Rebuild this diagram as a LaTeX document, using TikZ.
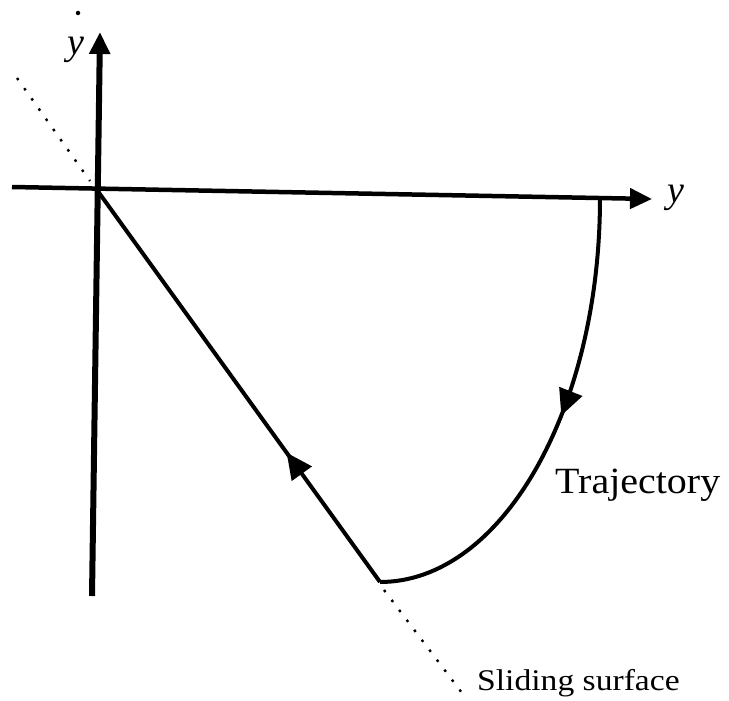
\documentclass[tikz,border=0pt]{standalone}
\usepackage{fontspec}
\setmainfont{Liberation Serif}
\usetikzlibrary{arrows.meta,decorations.markings}
\begin{document}
\begin{tikzpicture}[x=1pt,y=-1pt,
  vaxis/.style={line width=6pt,-{Triangle[length=22pt,width=20pt]}},
  haxis/.style={line width=4.5pt,-{Triangle[length=22pt,width=20pt]}},
  traj/.style={line width=4pt},
  surf/.style={line width=2.4pt,dash pattern=on 2.5pt off 10pt},
  lbl/.style={inner sep=0pt,font=\fontsize{38}{42}\selectfont\itshape},
  midarrow/.style={postaction={decorate},decoration={markings,mark=at position #1 with {\arrow{Triangle[length=26pt,width=24pt]}}}}]
\useasboundingbox (0,0) rectangle (729,701);
\coordinate (O) at (97,190);
\coordinate (ytop) at (100,32);
\coordinate (ybot) at (92,596);
\coordinate (xleft) at (12,187);
\coordinate (xright) at (652,199);
\coordinate (P) at (600,198);
\coordinate (B) at (380,582);
\coordinate (s1) at (17,78);
\coordinate (s2) at (90,181);
\coordinate (s3) at (384,590);
\coordinate (s4) at (462,693);
% axes
\draw[vaxis] (ybot) -- (ytop);
\draw[haxis] (xleft) -- (xright);
% sliding surface (dotted extensions)
\draw[surf] (s1) -- (s2);
\draw[surf] (s3) -- (s4);
% trajectory
\draw[traj, midarrow=0.33] (B) -- (O);
\draw[traj, midarrow=0.46] (P) .. controls +(0,212) and +(121.5,0) .. (B);
% dot
\node[circle,fill,inner sep=0pt,minimum size=4.5pt] (dot) at (78,13) {};
% labels
\node[lbl, anchor=north east] (ylab) at (85,37) {y};
\node[lbl, anchor=north west] (xlab) at (667,185) {y};
\node[inner sep=0pt, anchor=base west, font=\fontsize{37}{40}\selectfont] (tr) at (555,493) {\scalebox{1.08}[1]{Trajectory}};
\node[inner sep=0pt, anchor=base west, font=\fontsize{30}{34}\selectfont] (ss) at (477,690) {\scalebox{1.12}[1]{Sliding surface}};
\end{tikzpicture}
\end{document}
